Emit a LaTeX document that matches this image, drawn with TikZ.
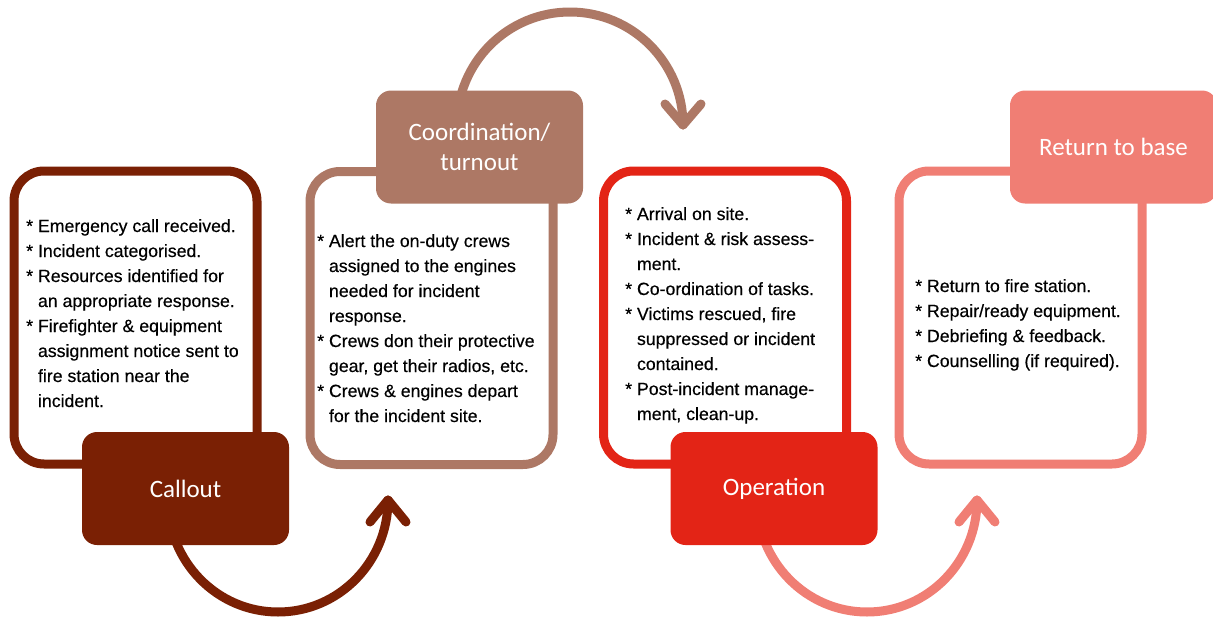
\documentclass[tikz,border=0pt]{standalone}
\usepackage{fontspec}
\setmainfont{Liberation Sans}
\newfontfamily\bodyfont{Liberation Sans}[FakeBold=0.4]
\newfontfamily\labelfont{Carlito}
\definecolor{callcol}{RGB}{122,32,4}
\definecolor{coordcol}{RGB}{173,120,101}
\definecolor{opcol}{RGB}{227,36,22}
\definecolor{retcol}{RGB}{240,126,116}
% bullet mark and indent for continuation lines of a bullet
\newcommand\bul{*\ }
\newcommand\cont{\hphantom{*\ }}
\begin{document}
\begin{tikzpicture}[x=1pt,y=-1pt,
  panel/.style={draw, line width=9pt, rounded corners=30pt, minimum width=243pt,
    minimum height=293pt, inner sep=0pt, fill=white},
  tab/.style={rounded corners=15pt, minimum width=207pt, minimum height=113pt,
    text=white, font=\labelfont\fontsize{25}{30}\selectfont, align=center, inner sep=0pt},
  flow/.style={line width=9pt, line cap=round, line join=round},
  bullets/.style={anchor=base west, inner sep=0pt, font=\bodyfont\fontsize{17.7}{25}\selectfont}]
\useasboundingbox (0,0) rectangle (1213,621);

% content panels
\node[panel, draw=callcol]  (p1) at (135.5,317.5) {};
\node[panel, draw=coordcol] (p2) at (431.5,318) {};
\node[panel, draw=opcol]    (p3) at (725,317.5) {};
\node[panel, draw=retcol]   (p4) at (1020.5,317.5) {};

% curved arrows between stages
\coordinate (a1s) at (168,500);
\coordinate (a1t) at (388,500);
\draw[flow, callcol] (a1s) arc[start angle=180, end angle=0, x radius=110, y radius=112];
\draw[flow, callcol] (a1t) ++(-18,22) -- (a1t) -- ++(18,22);

\coordinate (a2s) at (457,125);
\coordinate (a2t) at (683,125);
\draw[flow, coordcol] (a2s) arc[start angle=180, end angle=360, radius=113];
\draw[flow, coordcol] (a2t) ++(-18,-21) -- (a2t) -- ++(18,-21);

\coordinate (a3s) at (757,500);
\coordinate (a3t) at (977,500);
\draw[flow, retcol] (a3s) arc[start angle=180, end angle=0, x radius=110, y radius=112];
\draw[flow, retcol] (a3t) ++(-18,22) -- (a3t) -- ++(18,22);

% stage tabs
\node[tab, fill=callcol]  (t1) at (185.5,488.5) {Callout};
\node[tab, fill=coordcol] (t2) at (479.5,147) {Coordination/\\turnout};
\node[tab, fill=opcol]    (t3) at (774,488.5) {Operation};
\node[tab, fill=retcol]   (t4) at (1113.5,147) {Return to base};

% stage details
\node[bullets] (l1) at (26,232) {\begin{tabular}[t]{@{}l@{}}
\bul Emergency call received.\\
\bul Incident categorised.\\
\bul Resources identified for\\
\cont an appropriate response.\\
\bul Firefighter \& equipment\\
\cont assignment notice sent to\\
\cont fire station near the\\
\cont incident.
\end{tabular}};

\node[bullets] (l2) at (317,247) {\begin{tabular}[t]{@{}l@{}}
\bul Alert the on-duty crews\\
\cont assigned to the engines\\
\cont needed for incident\\
\cont response.\\
\bul Crews don their protective\\
\cont gear, get their radios, etc.\\
\bul Crews \& engines depart\\
\cont for the incident site.
\end{tabular}};

\node[bullets] (l3) at (625,220) {\begin{tabular}[t]{@{}l@{}}
\bul Arrival on site.\\
\bul Incident \& risk assess-\\
\cont ment.\\
\bul Co-ordination of tasks.\\
\bul Victims rescued, fire\\
\cont suppressed or incident\\
\cont contained.\\
\bul Post-incident manage-\\
\cont ment, clean-up.
\end{tabular}};

\node[bullets] (l4) at (915,292) {\begin{tabular}[t]{@{}l@{}}
\bul Return to fire station.\\
\bul Repair/ready equipment.\\
\bul Debriefing \& feedback.\\
\bul Counselling (if required).
\end{tabular}};
\end{tikzpicture}
\end{document}
